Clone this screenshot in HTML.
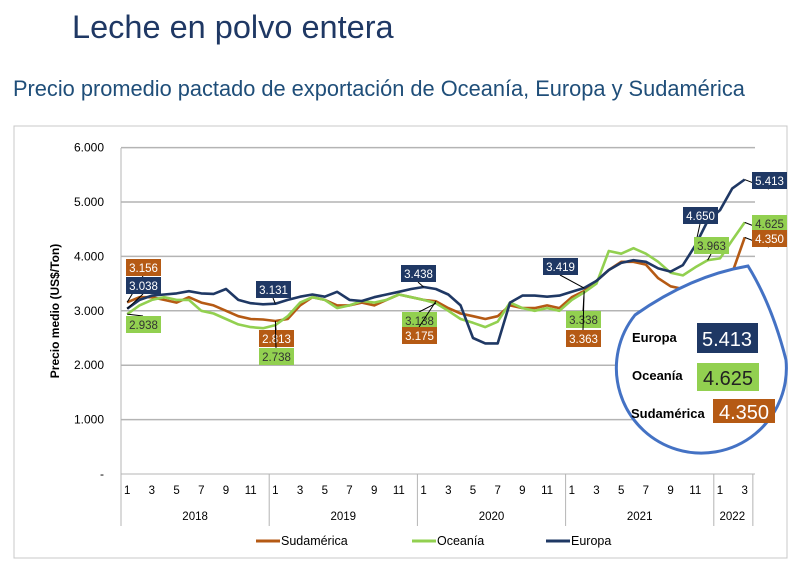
<!DOCTYPE html>
<html><head><meta charset="utf-8"><style>
body{margin:0;background:#fff;width:800px;height:564px;overflow:hidden;font-family:"Liberation Sans",sans-serif;}
</style></head><body>
<svg width="800" height="564" xmlns="http://www.w3.org/2000/svg">
<text x="72" y="38" font-size="32.5" fill="#1f3864" font-family="Liberation Sans, sans-serif">Leche en polvo entera</text>
<text x="13" y="96" font-size="21.8" fill="#1f4e79" font-family="Liberation Sans, sans-serif">Precio promedio pactado de exportación de Oceanía, Europa y Sudamérica</text>
<rect x="14" y="126" width="773" height="432" fill="none" stroke="#c8c8c8"/>
<g id="grid"></g><g id="axes"></g><g id="lines"></g><g id="labels"></g>
<path d="M748,266 Q772,305 786,360 A85 85 0 1 1 635 315 Q690,276 748,266 Z" fill="#fff" stroke="#4472c4" stroke-width="3"/>
<text x="632" y="342" font-size="13" font-weight="bold" font-family="Liberation Sans, sans-serif">Europa</text>
<rect x="697" y="323" width="61" height="30" fill="#1f3864"/>
<text x="727" y="346" font-size="20" fill="#fff" text-anchor="middle" font-family="Liberation Sans, sans-serif">5.413</text>
<text x="632" y="380" font-size="13" font-weight="bold" font-family="Liberation Sans, sans-serif">Oceanía</text>
<rect x="697" y="363" width="62" height="28" fill="#92d050"/>
<text x="728" y="385" font-size="20" fill="#222" text-anchor="middle" font-family="Liberation Sans, sans-serif">4.625</text>
<text x="631" y="418" font-size="13" font-weight="bold" font-family="Liberation Sans, sans-serif">Sudamérica</text>
<rect x="713" y="399" width="62" height="24" fill="#b55a14"/>
<text x="744" y="419" font-size="20" fill="#fff" text-anchor="middle" font-family="Liberation Sans, sans-serif">4.350</text>
<g id="legend"></g>
</svg>
<script>
const years=["2018","2019","2020","2021","2022"];
const yTicks=[0,1000,2000,3000,4000,5000,6000];
const yTickLabels=["-","1.000","2.000","3.000","4.000","5.000","6.000"];
const europa=[3038,3200,3280,3300,3320,3360,3320,3310,3400,3200,3140,3120,
3131,3200,3260,3300,3260,3350,3200,3180,3250,3300,3350,3400,
3438,3400,3300,3100,2500,2400,2400,3150,3280,3280,3260,3280,
3350,3419,3550,3750,3880,3930,3900,3780,3720,3840,4200,4650,
4850,5250,5413];
const oceania=[2938,3100,3200,3250,3200,3200,3000,2950,2850,2750,2700,2680,
2738,2900,3150,3250,3200,3050,3100,3180,3150,3200,3300,3250,
3200,3138,3000,2850,2780,2700,2800,3150,3050,3000,3050,3000,
3200,3338,3500,4100,4050,4150,4050,3900,3700,3650,3800,3930,
3963,4300,4625];
const sudamerica=[3156,3250,3250,3200,3150,3250,3150,3100,3000,2900,2850,2840,
2813,2850,3100,3250,3200,3100,3100,3150,3100,3200,3300,3250,
3200,3175,3050,2950,2900,2850,2900,3100,3050,3050,3100,3050,
3250,3363,3550,3750,3900,3900,3850,3600,3450,3400,3500,3600,
3620,3700,4350];
const labelsData=[
 {s:"sud",i:0,t:"3.156",x:126,y:259},{s:"eu",i:0,t:"3.038",x:126,y:277},{s:"oc",i:0,t:"2.938",x:126,y:316},
 {s:"eu",i:12,t:"3.131",x:256,y:281},{s:"sud",i:12,t:"2.813",x:259,y:330},{s:"oc",i:12,t:"2.738",x:259,y:348},
 {s:"eu",i:24,t:"3.438",x:401,y:265},{s:"oc",i:25,t:"3.138",x:402,y:312},{s:"sud",i:25,t:"3.175",x:402,y:327},
 {s:"eu",i:37,t:"3.419",x:543,y:258},{s:"oc",i:37,t:"3.338",x:566,y:311},{s:"sud",i:37,t:"3.363",x:566,y:330},
 {s:"eu",i:46,t:"4.650",x:683,y:207},{s:"oc",i:47,t:"3.963",x:694,y:237},
 {s:"eu",i:50,t:"5.413",x:752,y:172},{s:"oc",i:50,t:"4.625",x:752,y:215},{s:"sud",i:50,t:"4.350",x:752,y:230}];
const NS="http://www.w3.org/2000/svg";
const x0=121,mw=12.35,y0=474,ppu=54.4/1000;
const X=i=>x0+(i+0.5)*mw, Y=v=>y0-v*ppu;
function el(t,a,p){const e=document.createElementNS(NS,t);for(const k in a)e.setAttribute(k,a[k]);document.getElementById(p).appendChild(e);return e;}
const col={eu:"#1f3864",oc:"#92d050",sud:"#b55a14"};
const ser={eu:europa,oc:oceania,sud:sudamerica};
yTicks.forEach((v,k)=>{
 if(v>0){const g=el("line",{x1:x0,x2:755,y1:Y(v),y2:Y(v),stroke:"#b4b4b4","stroke-width":1.5},"grid");
 
 }
 const t=el("text",{x:104,y:Y(v)+4,"font-size":12,"text-anchor":"end"},"axes");t.textContent=yTickLabels[k];
 
 
});
const ya=el("line",{x1:x0,x2:x0,y1:148,y2:474,stroke:"#b4b4b4"},"axes");


const xa=el("line",{x1:x0,x2:755,y1:474,y2:474,stroke:"#b4b4b4"},"axes");


const yt=el("text",{x:0,y:0,"font-size":12,"font-weight":"bold",transform:"translate(59,311) rotate(-90)","text-anchor":"middle"},"axes");
yt.textContent="Precio medio (US$/Ton)";


const n=europa.length;
for(let i=0;i<n;i+=2){const t=el("text",{x:X(i),y:494,"font-size":11.5,"text-anchor":"middle"},"axes");t.textContent=String(i%12+1);
 
 }
years.forEach((yr,k)=>{
 const s=k*12,e=Math.min(n,s+12);
 const l=el("line",{x1:x0+s*mw,x2:x0+s*mw,y1:474,y2:526,stroke:"#b4b4b4"},"axes");
 
 
 const t=el("text",{x:x0+(s+e)/2*mw,y:520,"font-size":11.5,"text-anchor":"middle"},"axes");t.textContent=yr;
 
 
});
const le=el("line",{x1:x0+n*mw+2,x2:x0+n*mw+2,y1:474,y2:526,stroke:"#b4b4b4"},"axes");


["sud","oc","eu"].forEach(k=>{
 const d=ser[k].map((v,i)=>(i?"L":"M")+X(i).toFixed(1)+","+Y(v).toFixed(1)).join(" ");
 const p=el("path",{d:d,fill:"none",stroke:col[k],"stroke-width":2.6,"stroke-linejoin":"round"},"lines");
 
 
});
labelsData.forEach(L=>{
 const v=ser[L.s][L.i];
 const ln=el("line",{x1:X(L.i),y1:Y(v),x2:L.x+17,y2:L.y+(L.y<Y(v)?17:0),stroke:"#000","stroke-width":1},"labels");
 
 
 const r=el("rect",{x:L.x,y:L.y,width:35,height:17,fill:col[L.s]},"labels");
 
 
 const t=el("text",{x:L.x+17.5,y:L.y+13,"font-size":11.5,"text-anchor":"middle",fill:L.s==="oc"?"#333":"#fff"},"labels");t.textContent=L.t;
 
 
});
[["sud","Sudamérica",256],["oc","Oceanía",412],["eu","Europa",546]].forEach(([k,name,x])=>{
 const l=el("line",{x1:x,x2:x+24,y1:541,y2:541,stroke:col[k],"stroke-width":3},"legend");
 
 
 const t=el("text",{x:x+25,y:545,"font-size":12.5},"legend");t.textContent=name;
 
 
});
</script>
</body></html>
